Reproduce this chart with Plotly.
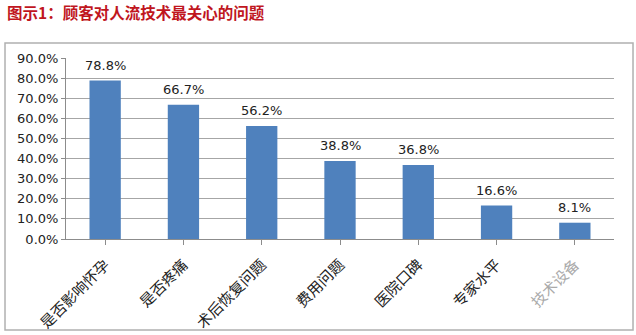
import plotly.graph_objects as go

categories = ["是否影响怀孕", "是否疼痛", "术后恢复问题", "费用问题", "医院口碑", "专家水平", "技术设备"]
values = [78.8, 66.7, 56.2, 38.8, 36.8, 16.6, 8.1]
label_colors = ["#222222"] * 6 + ["#AAAAAA"]
y_ticks = [0, 10, 20, 30, 40, 50, 60, 70, 80, 90]
title_text = "图示1：顾客对人流技术最关心的问题"

fig = go.Figure()
fig.add_trace(go.Bar(
    x=list(range(len(categories))), y=values,
    marker=dict(color="#4F81BD", line=dict(width=0)),
    width=0.4,
))

annotations = [dict(text=f"<b>{title_text}</b>", xref="paper", yref="paper",
                    x=-0.112, y=1.255, xanchor="left", yanchor="middle",
                    showarrow=False,
                    font=dict(family="Noto Sans CJK SC", size=15.5, color="#C0161E"))]
for i, v in enumerate(values):
    annotations.append(dict(
        x=i, y=v, xref="x", yref="y", text=f"{v:.1f}%", showarrow=False,
        yanchor="bottom", yshift=6,
        font=dict(family="DejaVu Sans, Arial", size=13, color="#222222"),
    ))

fig.update_layout(
    width=636, height=335,
    margin=dict(l=66, r=22, t=58, b=96),
    paper_bgcolor="white", plot_bgcolor="white",
    showlegend=False,
    xaxis=dict(
        range=[-0.5, 6.5], automargin=False,
        tickmode="array",
        tickvals=list(range(len(categories))),
        ticktext=[f"<span style='color:{c}'>{t}</span>" for t, c in zip(categories, label_colors)],
        tickangle=-45, ticklabelstandoff=5,
        tickfont=dict(family="Noto Sans CJK SC", size=15, color="#222222"),
        showline=True, linecolor="#8C8C8C", linewidth=1,
        ticks="outside", tickson="boundaries", ticklen=5, tickcolor="#8C8C8C",
        showgrid=False,
    ),
    yaxis=dict(
        range=[0, 90], tickvals=y_ticks, automargin=False,
        ticktext=[f"{v:.1f}%" for v in y_ticks],
        tickfont=dict(family="DejaVu Sans, Arial", size=13, color="#222222"),
        showline=True, linecolor="#8C8C8C", linewidth=1,
        ticks="outside", ticklen=4, tickcolor="#8C8C8C",
        showgrid=True, gridcolor="#A6A6A6", gridwidth=1,
        zeroline=False,
    ),
    shapes=[dict(type="rect", xref="paper", yref="paper",
                 x0=-0.1113, x1=1.0347, y0=-0.503, y1=1.083,
                 line=dict(color="#B0B0B0", width=1.5))],
    annotations=annotations,
)

fig.write_html("out.html")
